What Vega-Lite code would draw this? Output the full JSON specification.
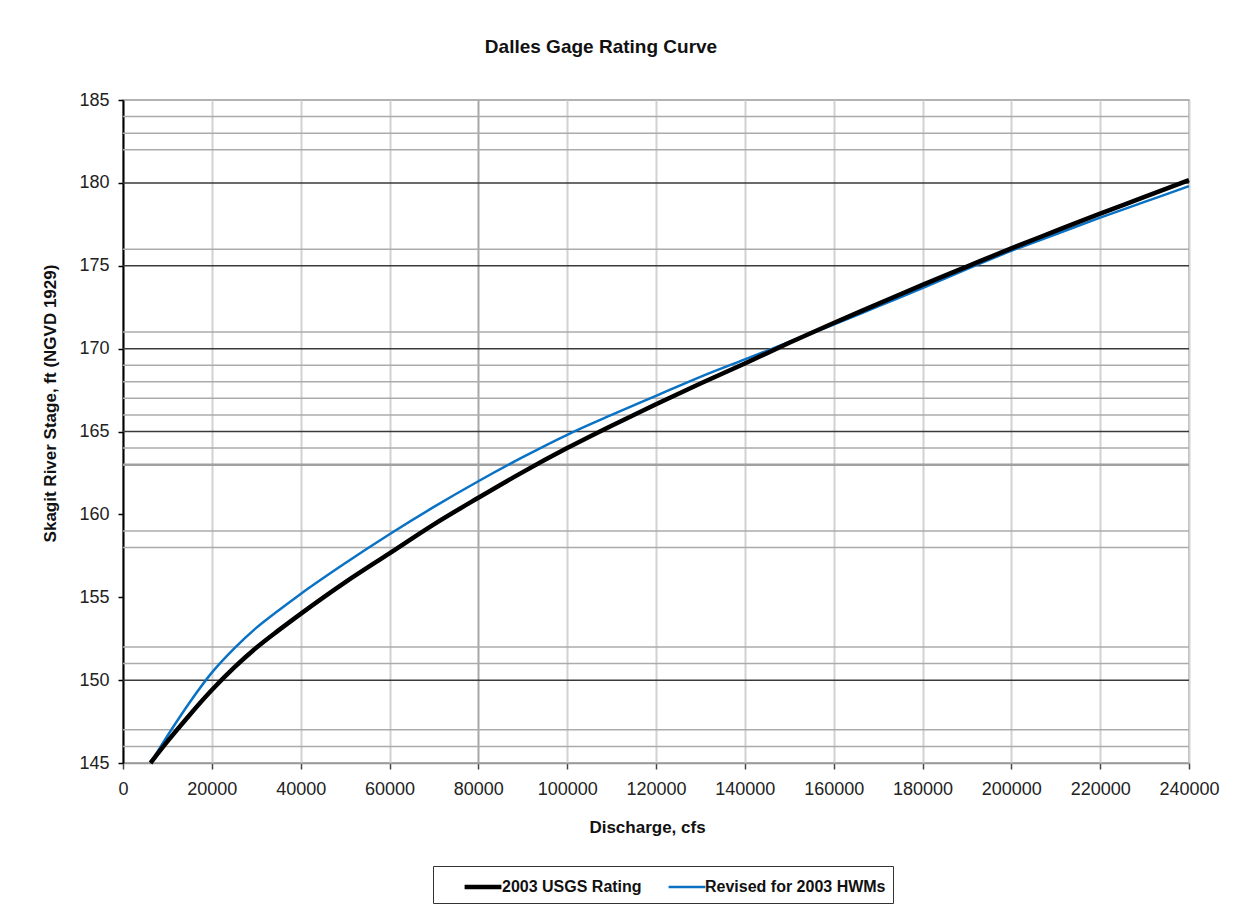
{
  "$schema": "https://vega.github.io/schema/vega-lite/v6.json",
  "width": 1066,
  "height": 663,
  "autosize": {"type": "none"},
  "padding": {"left": 123, "top": 100, "right": 58, "bottom": 153},
  "background": "white",
  "title": {"text": "Dalles Gage Rating Curve", "fontSize": 19, "fontWeight": "bold", "font": "Liberation Sans", "color": "#111", "offset": 34, "frame": "group", "anchor": "middle", "dx": -55},
  "config": {
    "view": {"stroke": "#999", "strokeWidth": 1.5},
    "font": "Liberation Sans"
  },
  "datasets": {
    "minor": [{"stage": 146}, {"stage": 147}, {"stage": 151}, {"stage": 152}, {"stage": 158}, {"stage": 159}, {"stage": 164}, {"stage": 166}, {"stage": 167}, {"stage": 168}, {"stage": 169}, {"stage": 171}, {"stage": 176}, {"stage": 182}, {"stage": 183}, {"stage": 184}],
    "emph": [{"stage": 163}],
    "major": [{"stage": 150}, {"stage": 165}, {"stage": 170}, {"stage": 175}, {"stage": 180}],
    "revised": [
      {"Q": 6200, "stage": 145.0, "series": "Revised for 2003 HWMs"},
      {"Q": 8500, "stage": 146.0, "series": "Revised for 2003 HWMs"},
      {"Q": 11000, "stage": 147.05, "series": "Revised for 2003 HWMs"},
      {"Q": 15000, "stage": 148.65, "series": "Revised for 2003 HWMs"},
      {"Q": 20000, "stage": 150.45, "series": "Revised for 2003 HWMs"},
      {"Q": 25000, "stage": 151.9, "series": "Revised for 2003 HWMs"},
      {"Q": 30000, "stage": 153.15, "series": "Revised for 2003 HWMs"},
      {"Q": 35000, "stage": 154.2, "series": "Revised for 2003 HWMs"},
      {"Q": 40000, "stage": 155.2, "series": "Revised for 2003 HWMs"},
      {"Q": 50000, "stage": 157.05, "series": "Revised for 2003 HWMs"},
      {"Q": 60000, "stage": 158.8, "series": "Revised for 2003 HWMs"},
      {"Q": 70000, "stage": 160.45, "series": "Revised for 2003 HWMs"},
      {"Q": 80000, "stage": 162.0, "series": "Revised for 2003 HWMs"},
      {"Q": 90000, "stage": 163.45, "series": "Revised for 2003 HWMs"},
      {"Q": 100000, "stage": 164.8, "series": "Revised for 2003 HWMs"},
      {"Q": 110000, "stage": 166.0, "series": "Revised for 2003 HWMs"},
      {"Q": 120000, "stage": 167.15, "series": "Revised for 2003 HWMs"},
      {"Q": 130000, "stage": 168.3, "series": "Revised for 2003 HWMs"},
      {"Q": 140000, "stage": 169.35, "series": "Revised for 2003 HWMs"},
      {"Q": 150000, "stage": 170.4, "series": "Revised for 2003 HWMs"},
      {"Q": 160000, "stage": 171.45, "series": "Revised for 2003 HWMs"},
      {"Q": 170000, "stage": 172.55, "series": "Revised for 2003 HWMs"},
      {"Q": 180000, "stage": 173.65, "series": "Revised for 2003 HWMs"},
      {"Q": 190000, "stage": 174.8, "series": "Revised for 2003 HWMs"},
      {"Q": 200000, "stage": 175.9, "series": "Revised for 2003 HWMs"},
      {"Q": 210000, "stage": 176.9, "series": "Revised for 2003 HWMs"},
      {"Q": 220000, "stage": 177.9, "series": "Revised for 2003 HWMs"},
      {"Q": 230000, "stage": 178.85, "series": "Revised for 2003 HWMs"},
      {"Q": 240000, "stage": 179.8, "series": "Revised for 2003 HWMs"}
    ],
    "usgs": [
      {"Q": 6200, "stage": 145.0, "series": "2003 USGS Rating"},
      {"Q": 10000, "stage": 146.3, "series": "2003 USGS Rating"},
      {"Q": 15000, "stage": 147.9, "series": "2003 USGS Rating"},
      {"Q": 20000, "stage": 149.4, "series": "2003 USGS Rating"},
      {"Q": 25000, "stage": 150.75, "series": "2003 USGS Rating"},
      {"Q": 30000, "stage": 151.95, "series": "2003 USGS Rating"},
      {"Q": 35000, "stage": 153.0, "series": "2003 USGS Rating"},
      {"Q": 40000, "stage": 154.0, "series": "2003 USGS Rating"},
      {"Q": 50000, "stage": 155.9, "series": "2003 USGS Rating"},
      {"Q": 60000, "stage": 157.65, "series": "2003 USGS Rating"},
      {"Q": 70000, "stage": 159.4, "series": "2003 USGS Rating"},
      {"Q": 80000, "stage": 161.0, "series": "2003 USGS Rating"},
      {"Q": 90000, "stage": 162.55, "series": "2003 USGS Rating"},
      {"Q": 100000, "stage": 164.0, "series": "2003 USGS Rating"},
      {"Q": 110000, "stage": 165.35, "series": "2003 USGS Rating"},
      {"Q": 120000, "stage": 166.65, "series": "2003 USGS Rating"},
      {"Q": 130000, "stage": 167.9, "series": "2003 USGS Rating"},
      {"Q": 140000, "stage": 169.1, "series": "2003 USGS Rating"},
      {"Q": 150000, "stage": 170.35, "series": "2003 USGS Rating"},
      {"Q": 160000, "stage": 171.55, "series": "2003 USGS Rating"},
      {"Q": 170000, "stage": 172.7, "series": "2003 USGS Rating"},
      {"Q": 180000, "stage": 173.85, "series": "2003 USGS Rating"},
      {"Q": 190000, "stage": 174.95, "series": "2003 USGS Rating"},
      {"Q": 200000, "stage": 176.05, "series": "2003 USGS Rating"},
      {"Q": 210000, "stage": 177.1, "series": "2003 USGS Rating"},
      {"Q": 220000, "stage": 178.15, "series": "2003 USGS Rating"},
      {"Q": 230000, "stage": 179.15, "series": "2003 USGS Rating"},
      {"Q": 240000, "stage": 180.17, "series": "2003 USGS Rating"}
    ]
  },
  "layer": [
    {
      "data": {"name": "minor"},
      "mark": {"type": "rule", "color": "#ababab", "strokeWidth": 1.5},
      "encoding": {
        "y": {"field": "stage", "type": "quantitative", "scale": {"domain": [145, 185], "nice": false, "zero": false},
          "axis": {"title": "Skagit River Stage, ft (NGVD 1929)", "values": [145, 150, 155, 160, 165, 170, 175, 180, 185], "format": "d", "grid": false, "labelFlush": false, "labelFont": "Liberation Sans", "labelFontSize": 18, "labelColor": "#222", "labelPadding": 9, "tickSize": 5, "tickColor": "#000", "tickWidth": 1.5, "domainColor": "#000", "domainWidth": 2, "titleFont": "Liberation Sans", "titleFontSize": 17, "titleFontWeight": "bold", "titleColor": "#111", "titleAngle": 270, "titleX": -68, "titleY": 303, "titleAlign": "center", "titleBaseline": "alphabetic"}}
      }
    },
    {
      "data": {"name": "emph"},
      "mark": {"type": "rule", "color": "#a0a0a0", "strokeWidth": 2.5},
      "encoding": {
        "y": {"field": "stage", "type": "quantitative", "scale": {"domain": [145, 185], "nice": false, "zero": false},
          "axis": {"title": "Skagit River Stage, ft (NGVD 1929)", "values": [145, 150, 155, 160, 165, 170, 175, 180, 185], "format": "d", "grid": false, "labelFlush": false, "labelFont": "Liberation Sans", "labelFontSize": 18, "labelColor": "#222", "labelPadding": 9, "tickSize": 5, "tickColor": "#000", "tickWidth": 1.5, "domainColor": "#000", "domainWidth": 2, "titleFont": "Liberation Sans", "titleFontSize": 17, "titleFontWeight": "bold", "titleColor": "#111", "titleAngle": 270, "titleX": -68, "titleY": 303, "titleAlign": "center", "titleBaseline": "alphabetic"}}
      }
    },
    {
      "data": {"name": "major"},
      "mark": {"type": "rule", "color": "#3a3a3a", "strokeWidth": 1.5},
      "encoding": {
        "y": {"field": "stage", "type": "quantitative", "scale": {"domain": [145, 185], "nice": false, "zero": false},
          "axis": {"title": "Skagit River Stage, ft (NGVD 1929)", "values": [145, 150, 155, 160, 165, 170, 175, 180, 185], "format": "d", "grid": false, "labelFlush": false, "labelFont": "Liberation Sans", "labelFontSize": 18, "labelColor": "#222", "labelPadding": 9, "tickSize": 5, "tickColor": "#000", "tickWidth": 1.5, "domainColor": "#000", "domainWidth": 2, "titleFont": "Liberation Sans", "titleFontSize": 17, "titleFontWeight": "bold", "titleColor": "#111", "titleAngle": 270, "titleX": -68, "titleY": 303, "titleAlign": "center", "titleBaseline": "alphabetic"}}
      }
    },
    {
      "data": {"name": "revised"},
      "mark": {"type": "line", "interpolate": "monotone", "strokeCap": "butt"},
      "encoding": {
        "x": {"field": "Q", "type": "quantitative", "scale": {"domain": [0, 240000], "nice": false},
          "axis": {"title": "Discharge, cfs", "values": [0, 20000, 40000, 60000, 80000, 100000, 120000, 140000, 160000, 180000, 200000, 220000, 240000], "format": "d", "grid": true, "gridColor": {"condition": {"test": "datum.value === 80000", "value": "#a8a8a8"}, "value": "#d2d2d2"}, "gridWidth": 2, "labelOverlap": false, "labelFlush": false, "labelFont": "Liberation Sans", "labelFontSize": 18, "labelColor": "#222", "labelPadding": 11, "tickSize": 6, "tickColor": "#444", "tickWidth": 1.5, "domainColor": "#999", "domainWidth": 1.5, "titleFont": "Liberation Sans", "titleFontSize": 17, "titleFontWeight": "bold", "titleColor": "#111", "titleX": 524, "titleY": 69, "titleAlign": "center", "titleBaseline": "alphabetic"}},
        "y": {"field": "stage", "type": "quantitative", "scale": {"domain": [145, 185], "nice": false, "zero": false},
          "axis": {"title": "Skagit River Stage, ft (NGVD 1929)", "values": [145, 150, 155, 160, 165, 170, 175, 180, 185], "format": "d", "grid": false, "labelFlush": false, "labelFont": "Liberation Sans", "labelFontSize": 18, "labelColor": "#222", "labelPadding": 9, "tickSize": 5, "tickColor": "#000", "tickWidth": 1.5, "domainColor": "#000", "domainWidth": 2, "titleFont": "Liberation Sans", "titleFontSize": 17, "titleFontWeight": "bold", "titleColor": "#111", "titleAngle": 270, "titleX": -68, "titleY": 303, "titleAlign": "center", "titleBaseline": "alphabetic"}},
        "color": {"field": "series", "type": "nominal", "scale": {"domain": ["2003 USGS Rating", "Revised for 2003 HWMs"], "range": ["#000000", "#0a72c4"]},
          "legend": {"orient": "none", "legendX": 310, "legendY": 766, "direction": "horizontal", "title": null, "symbolType": "M-1.6,0H1.6", "symbolSize": 529, "symbolOffset": 29, "labelFont": "Liberation Sans", "labelFontSize": 16, "labelFontWeight": "bold", "labelColor": "#111", "labelOffset": 5, "labelLimit": 400, "columnPadding": 3, "padding": 7, "strokeColor": "#333", "fillColor": "white"}},
        "strokeWidth": {"field": "series", "type": "nominal", "scale": {"domain": ["2003 USGS Rating", "Revised for 2003 HWMs"], "range": [4.5, 2.5]},
          "legend": {"orient": "none", "legendX": 310, "legendY": 766, "direction": "horizontal", "title": null, "symbolType": "M-1.6,0H1.6", "symbolSize": 529, "symbolOffset": 29, "labelFont": "Liberation Sans", "labelFontSize": 16, "labelFontWeight": "bold", "labelColor": "#111", "labelOffset": 5, "labelLimit": 400, "columnPadding": 3, "padding": 7, "strokeColor": "#333", "fillColor": "white"}}
      }
    },
    {
      "data": {"name": "usgs"},
      "mark": {"type": "line", "interpolate": "monotone", "strokeCap": "butt"},
      "encoding": {
        "x": {"field": "Q", "type": "quantitative", "scale": {"domain": [0, 240000], "nice": false},
          "axis": {"title": "Discharge, cfs", "values": [0, 20000, 40000, 60000, 80000, 100000, 120000, 140000, 160000, 180000, 200000, 220000, 240000], "format": "d", "grid": true, "gridColor": {"condition": {"test": "datum.value === 80000", "value": "#a8a8a8"}, "value": "#d2d2d2"}, "gridWidth": 2, "labelOverlap": false, "labelFlush": false, "labelFont": "Liberation Sans", "labelFontSize": 18, "labelColor": "#222", "labelPadding": 11, "tickSize": 6, "tickColor": "#444", "tickWidth": 1.5, "domainColor": "#999", "domainWidth": 1.5, "titleFont": "Liberation Sans", "titleFontSize": 17, "titleFontWeight": "bold", "titleColor": "#111", "titleX": 524, "titleY": 69, "titleAlign": "center", "titleBaseline": "alphabetic"}},
        "y": {"field": "stage", "type": "quantitative", "scale": {"domain": [145, 185], "nice": false, "zero": false},
          "axis": {"title": "Skagit River Stage, ft (NGVD 1929)", "values": [145, 150, 155, 160, 165, 170, 175, 180, 185], "format": "d", "grid": false, "labelFlush": false, "labelFont": "Liberation Sans", "labelFontSize": 18, "labelColor": "#222", "labelPadding": 9, "tickSize": 5, "tickColor": "#000", "tickWidth": 1.5, "domainColor": "#000", "domainWidth": 2, "titleFont": "Liberation Sans", "titleFontSize": 17, "titleFontWeight": "bold", "titleColor": "#111", "titleAngle": 270, "titleX": -68, "titleY": 303, "titleAlign": "center", "titleBaseline": "alphabetic"}},
        "color": {"field": "series", "type": "nominal"},
        "strokeWidth": {"field": "series", "type": "nominal"}
      }
    }
  ]
}
